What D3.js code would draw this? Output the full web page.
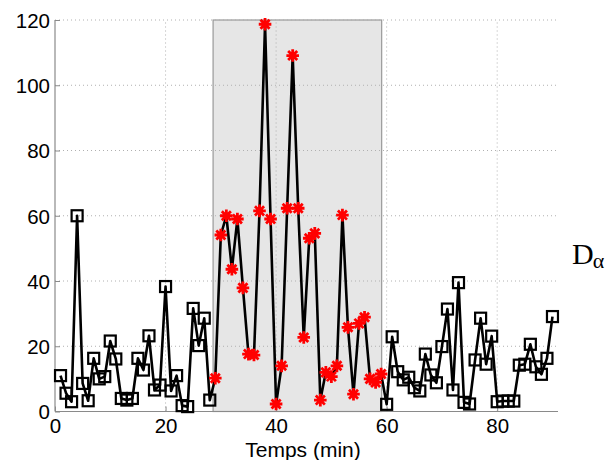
<!DOCTYPE html>
<html lang="fr">
<head>
  <meta charset="UTF-8" />
  <title>D alpha - Temps</title>
  <style>
    body {
      margin: 0;
      background-color: #fff;
    }

    svg {
      display: block;
    }

    .tick text,
    .axis-label {
      font-family: "Liberation Sans", Arial, sans-serif;
      font-size: 20.5px;
      fill: #000;
    }

    .axis-label {
      font-size: 21px;
    }

    .grid line {
      stroke: #b0b0b0;
      stroke-width: 1px;
      stroke-dasharray: 1, 3;
    }
  </style>
</head>
<body>
  <svg width="607" height="460"></svg>

  <script src="https://d3js.org/d3.v7.min.js"></script>
  <script>
    const avantDebut = 1;
    const avant = [11.0, 5.6, 3.0, 60, 8.6, 3.3, 16.3, 10, 10.7, 21.6, 16.1, 4.0, 3.5, 4.0,
      16.3, 12.7, 23.2, 6.6, 8.1, 38.3, 6.3, 11.0, 1.8, 1.5, 31.6, 20.2, 28.6, 3.5];

    const pendantDebut = 29;
    const pendant = [10.2, 54.1, 60.0, 43.6, 59.0, 37.9, 17.6, 17.3, 61.5, 118.7, 59.0, 2.3,
      14.0, 62.3, 109.1, 62.3, 22.7, 53.1, 54.6, 3.5, 12.0, 10.7, 14.0, 60.2, 25.8, 5.3,
      27.0, 28.9, 10.0, 8.9, 11.5];

    const apresDebut = 60;
    const apres = [2.2, 22.9, 12.2, 9.7, 10.5, 7.3, 6.3, 17.6, 11.2, 8.8, 19.9, 31.4, 6.6,
      39.5, 2.8, 2.3, 15.8, 28.6, 14.5, 23.1, 3.0, 3.2, 3.2, 3.2, 14.2, 14.5, 20.6, 13.7,
      11.4, 16.3, 29.1];

    // zone grisée
    const periode = [28.6, 59.1];

    const xTicks = [0, 20, 40, 60, 80];
    const yTicks = [0, 20, 40, 60, 80, 100, 120];

    const toPoints = (vals, start, type) => vals.map((v, i) => ({ t: start + i, v: v, type: type }));
    const points = [
      ...toPoints(avant, avantDebut, "carre"),
      ...toPoints(pendant, pendantDebut, "etoile"),
      ...toPoints(apres, apresDebut, "carre")
    ];

    const svg = d3.select("svg");

    const x = d3.scaleLinear().domain([0, 91]).range([55, 558]);
    const y = d3.scaleLinear().domain([0, 120]).range([411.5, 20]);

    // zone grisée
    svg.append("rect")
      .attr("x", x(periode[0]))
      .attr("y", y(120))
      .attr("width", x(periode[1]) - x(periode[0]))
      .attr("height", y(0) - y(120))
      .attr("fill", "#e6e6e6")
      .attr("stroke", "#999")
      .attr("stroke-width", 1.2);

    // grille pointillée
    const grid = svg.append("g").attr("class", "grid");
    grid.selectAll(".gx")
      .data(xTicks.filter(d => d > 0))
      .join("line")
      .attr("x1", d => x(d)).attr("x2", d => x(d))
      .attr("y1", y(0)).attr("y2", y(120));
    grid.selectAll(".gy")
      .data(yTicks.filter(d => d > 0))
      .join("line")
      .attr("x1", x(0)).attr("x2", x(91))
      .attr("y1", d => y(d)).attr("y2", d => y(d));

    // axes
    const xAxis = svg.append("g")
      .attr("transform", `translate(0,${y(0)})`)
      .call(d3.axisBottom(x).tickValues(xTicks).tickSizeInner(-5).tickSizeOuter(0).tickPadding(5));
    const yAxis = svg.append("g")
      .attr("transform", `translate(${x(0)},0)`)
      .call(d3.axisLeft(y).tickValues(yTicks).tickSizeInner(-5).tickSizeOuter(0).tickPadding(5));

    [xAxis, yAxis].forEach(a => {
      a.select(".domain").attr("stroke", "#8a8a8a").attr("stroke-width", 1.2);
      a.selectAll(".tick line").attr("stroke", "#8a8a8a");
    });
    xAxis.select(".domain").attr("d", `M${x(0)},0H${x(91)}`);
    yAxis.select(".domain").attr("d", `M0,${y(0)}V${y(120)}`);
    xAxis.selectAll(".tick text").attr("dy", "0.82em");
    yAxis.selectAll(".tick text").attr("dy", "0.36em");

    // courbe
    const line = d3.line().x(d => x(d.t)).y(d => y(d.v));
    svg.append("path")
      .datum(points)
      .attr("fill", "none")
      .attr("stroke", "#000")
      .attr("stroke-width", 2.6)
      .attr("stroke-linejoin", "round")
      .attr("d", line);

    // marqueurs carrés
    const c = 11;
    svg.append("g")
      .selectAll("rect")
      .data(points.filter(d => d.type === "carre"))
      .join("rect")
      .attr("x", d => x(d.t) - c / 2)
      .attr("y", d => y(d.v) - c / 2)
      .attr("width", c)
      .attr("height", c)
      .attr("fill", "none")
      .attr("stroke", "#000")
      .attr("stroke-width", 2.2);

    // marqueurs étoiles
    const r = 6.3;
    const etoile = `M${-r},0H${r}M0,${-r}V${r}M${-r * 0.72},${-r * 0.72}L${r * 0.72},${r * 0.72}M${-r * 0.72},${r * 0.72}L${r * 0.72},${-r * 0.72}`;
    svg.append("g")
      .selectAll("path")
      .data(points.filter(d => d.type === "etoile"))
      .join("path")
      .attr("transform", d => `translate(${x(d.t)},${y(d.v)})`)
      .attr("d", etoile)
      .attr("fill", "none")
      .attr("stroke", "#ff0000")
      .attr("stroke-width", 2.8);

    // titre de l'axe x
    svg.append("text")
      .attr("class", "axis-label")
      .attr("x", 303)
      .attr("y", 457)
      .attr("text-anchor", "middle")
      .text("Temps (min)");

    // étiquette D_alpha
    const lab = svg.append("text")
      .attr("x", 572)
      .attr("y", 264)
      .style("font-family", "'Liberation Serif', 'Times New Roman', serif")
      .style("font-size", "30px");
    lab.append("tspan").text("D");
    lab.append("tspan").attr("dy", 4).attr("dx", -1).style("font-size", "22px").text("α");
  </script>
</body>
</html>
